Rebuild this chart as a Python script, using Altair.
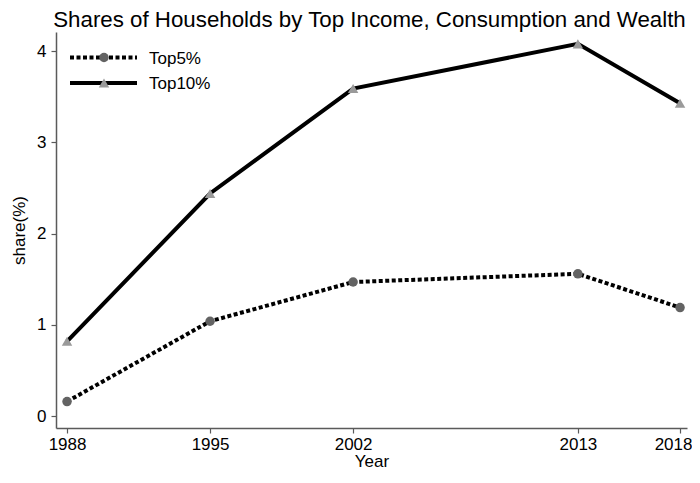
import altair as alt
import pandas as pd

years = [1988, 1995, 2002, 2013, 2018]
top5 = [0.16, 1.04, 1.47, 1.56, 1.19]
top10 = [0.82, 2.44, 3.59, 4.08, 3.43]
series_names = ["Top5%", "Top10%"]
title_text = "Shares of Households by Top Income, Consumption and Wealth"

df = pd.DataFrame({
    "Year": years * 2,
    "share": top5 + top10,
    "series": [series_names[0]] * len(years) + [series_names[1]] * len(years),
})

FONT = "Liberation Sans"
xscale = alt.Scale(domain=[1987.46, 2018.34], nice=False, zero=False)
yscale = alt.Scale(domain=[-0.13, 4.21], nice=False, zero=False)

x = alt.X("Year:Q", scale=xscale,
          axis=alt.Axis(values=years, format="d", title="Year", titlePadding=1,
                        labelPadding=3,
                        labelOffset=alt.expr("datum.value == 2018 ? -7 : 0")))
y = alt.Y("share:Q", scale=yscale,
          axis=alt.Axis(values=[0, 1, 2, 3, 4], title="share(%)", titlePadding=8,
                        labelPadding=5))

base = alt.Chart(df)
DASH = [4, 2.5]

line5 = base.transform_filter(alt.datum.series == series_names[0]).mark_line(
    color="black", strokeWidth=4, strokeDash=DASH, strokeCap="butt"
).encode(x=x, y=y)
line10 = base.transform_filter(alt.datum.series == series_names[1]).mark_line(
    color="black", strokeWidth=4
).encode(x=x, y=y)
pts5 = base.transform_filter(alt.datum.series == series_names[0]).mark_point(
    shape="circle", filled=True, color="#636363", size=90, opacity=1
).encode(x=x, y=y)
pts10 = base.transform_filter(alt.datum.series == series_names[1]).mark_point(
    shape="triangle-up", filled=True, color="#9a9a9a", size=110, opacity=1
).encode(x=x, y=y)

# manual legend (inside the plot, top-left)
leg_y = [25.5, 51]
lg5_line = alt.Chart().mark_rule(color="black", strokeWidth=4, strokeDash=DASH, strokeCap="butt").encode(
    x=alt.value(14), x2=alt.value(81), y=alt.value(leg_y[0]))
lg10_line = alt.Chart().mark_rule(color="black", strokeWidth=4).encode(
    x=alt.value(14), x2=alt.value(81), y=alt.value(leg_y[1]))
lg5_pt = alt.Chart().mark_point(shape="circle", filled=True, color="#636363", size=90, opacity=1).encode(
    x=alt.value(48), y=alt.value(leg_y[0]))
lg10_pt = alt.Chart().mark_point(shape="triangle-up", filled=True, color="#9a9a9a", size=110, opacity=1).encode(
    x=alt.value(48), y=alt.value(leg_y[1]))
lg5_txt = alt.Chart().mark_text(align="left", baseline="middle", font=FONT, fontSize=17, color="black").encode(
    x=alt.value(93), y=alt.value(leg_y[0] + 1), text=alt.value(series_names[0]))
lg10_txt = alt.Chart().mark_text(align="left", baseline="middle", font=FONT, fontSize=17, color="black").encode(
    x=alt.value(93), y=alt.value(leg_y[1] + 1), text=alt.value(series_names[1]))

chart = alt.layer(
    line5, line10, pts5, pts10,
    lg5_line, lg10_line, lg5_pt, lg10_pt, lg5_txt, lg10_txt,
).properties(
    width=631, height=396,
    title=alt.TitleParams(title_text, font=FONT, fontSize=22.3, fontWeight="normal",
                          anchor="middle", offset=1, dx=-2, color="black"),
    autosize=alt.AutoSizeParams(type="none"),
    padding={"left": 48, "top": 24, "right": 5, "bottom": 43},
).configure_view(stroke=None).configure_axis(
    grid=False,
    domainColor="#5a5a5a", domainWidth=1.5,
    tickColor="#5a5a5a", tickSize=5, tickWidth=1.2,
    labelFont=FONT, labelFontSize=17, labelColor="black",
    titleFont=FONT, titleFontSize=17, titleFontWeight="normal", titleColor="black",
).configure_axisY(labelAngle=0)

chart.save("out.html", embed_options={"renderer": "svg", "actions": False})
